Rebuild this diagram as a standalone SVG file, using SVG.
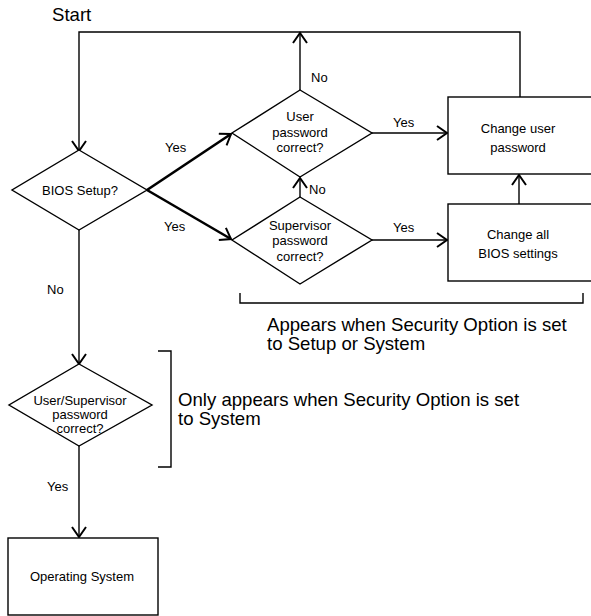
<svg xmlns="http://www.w3.org/2000/svg" width="591" height="616" viewBox="0 0 591 616">
<defs>
<marker id="arr" viewBox="-12 -8 14 16" refX="0" refY="0" markerWidth="14" markerHeight="16" markerUnits="userSpaceOnUse" orient="auto">
<path d="M-10,-7 L0,0 L-10,7" fill="none" stroke="#000" stroke-width="2"/>
</marker>
</defs>
<style>
.shape{fill:#fff;stroke:#000;stroke-width:1.4}
.line{fill:none;stroke:#000;stroke-width:1.4}
.thick{fill:none;stroke:#000;stroke-width:2.6}
.t{font-family:"Liberation Sans",Arial,sans-serif;font-size:13px;fill:#000;text-anchor:middle}
.l{font-family:"Liberation Sans",Arial,sans-serif;font-size:13px;fill:#000}
.big{font-family:"Liberation Sans",Arial,sans-serif;font-size:18.6px;fill:#000}
</style>
<rect width="591" height="616" fill="#fff"/>
<g id="connectors">
<path class="line" d="M520,97 V32 H79 V151" marker-end="url(#arr)"/>
<path class="line" d="M300,90 V33" marker-end="url(#arr)"/>
<path class="thick" d="M147,190 L231,134" marker-end="url(#arr)"/>
<path class="thick" d="M147,190 L231,239" marker-end="url(#arr)"/>
<path class="line" d="M372,133 H447" marker-end="url(#arr)"/>
<path class="line" d="M372,240 H447" marker-end="url(#arr)"/>
<path class="line" d="M300,197 V178" marker-end="url(#arr)"/>
<path class="line" d="M519,204 V175" marker-end="url(#arr)"/>
<path class="line" d="M79,230 V364" marker-end="url(#arr)"/>
<path class="line" d="M79,446 V537" marker-end="url(#arr)"/>
<text class="l" x="311" y="82">No</text>
<text class="l" x="309" y="194">No</text>
<text class="l" x="393" y="127">Yes</text>
<text class="l" x="393" y="232">Yes</text>
<text class="l" x="165" y="152">Yes</text>
<text class="l" x="164" y="231">Yes</text>
<text class="l" x="47" y="294">No</text>
<text class="l" x="47" y="491">Yes</text>
</g>
<g id="start"><text class="big" x="52" y="21">Start</text></g>
<g id="bios-setup">
<polygon class="shape" points="79,150 147,190 79,230 12,190"/>
<text class="t" x="80" y="195">BIOS Setup?</text>
</g>
<g id="user-password">
<polygon class="shape" points="300,90 372,133 300,177 232,133"/>
<text class="t" x="300" y="120.5">User</text>
<text class="t" x="300" y="136.5">password</text>
<text class="t" x="300" y="151.5">correct?</text>
</g>
<g id="supervisor-password">
<polygon class="shape" points="300,197 372,240 300,284 232,240"/>
<text class="t" x="300" y="229.5">Supervisor</text>
<text class="t" x="300" y="244.5">password</text>
<text class="t" x="300" y="260.5">correct?</text>
</g>
<g id="change-user">
<rect class="shape" x="448" y="97" width="160" height="77"/>
<text class="t" x="518" y="132.5">Change user</text>
<text class="t" x="518" y="151.5">password</text>
</g>
<g id="change-all">
<rect class="shape" x="448" y="204" width="160" height="77"/>
<text class="t" x="518" y="238.5">Change all</text>
<text class="t" x="518" y="257.5">BIOS settings</text>
</g>
<g id="user-supervisor">
<polygon class="shape" points="79,364 152,405 79,446 9,405"/>
<text class="t" x="80" y="405">User/Supervisor</text>
<text class="t" x="80" y="419">password</text>
<text class="t" x="80" y="433">correct?</text>
</g>
<g id="operating-system">
<rect class="shape" x="8" y="538" width="150" height="77"/>
<text class="t" x="82" y="581">Operating System</text>
</g>
<g id="note-setup">
<path class="line" d="M240,293 V303 H583 V293"/>
<text class="big" x="267" y="331">Appears when Security Option is set</text>
<text class="big" x="267" y="350">to Setup or System</text>
</g>
<g id="note-system">
<path class="line" d="M158,351 H171 V467 H158"/>
<text class="big" x="178" y="406">Only appears when Security Option is set</text>
<text class="big" x="178" y="425">to System</text>
</g>
</svg>
